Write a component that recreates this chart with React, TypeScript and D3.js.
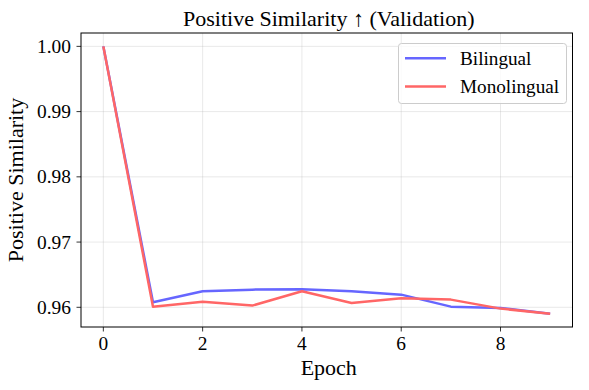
import React from "react";
import * as d3 from "d3";

const epochs = [0, 1, 2, 3, 4, 5, 6, 7, 8, 9];
const bilingual = [1.0, 0.96077, 0.96245, 0.96271, 0.96276, 0.96245, 0.96194, 0.9601, 0.9599, 0.95903];
const monolingual = [1.0, 0.9601, 0.96087, 0.96026, 0.96245, 0.96067, 0.96138, 0.96118, 0.9598, 0.95903];
const xTicks = [0, 2, 4, 6, 8];
const yTicks = [0.96, 0.97, 0.98, 0.99, 1.0];
const seriesNames = ["Bilingual", "Monolingual"];
const seriesColors = ["#6666ff", "#ff6666"];

const W = 589, H = 390;
const L = 81, R = 572.5, T = 33, B = 327;
const FONT = "Liberation Serif, serif";

export default function App() {
  const yMin = 0.95903, yMax = 1.0;
  const pad = (yMax - yMin) * 0.05;
  const x = d3.scaleLinear().domain([-0.45, 9.45]).range([L, R]);
  const y = d3.scaleLinear().domain([yMin - pad, yMax + pad]).range([B, T]);
  const line = d3.line<number>().x((_, i) => x(epochs[i])).y((d) => y(d));
  const series = [bilingual, monolingual];

  return (
    <svg width={W} height={H} style={{ position: "absolute", left: 0, top: 0, background: "#fff", fontFamily: FONT }}>
      <rect x={0} y={0} width={W} height={H} fill="#fff" />
      {xTicks.map((t) => (
        <line key={"gx" + t} x1={x(t)} x2={x(t)} y1={T} y2={B} stroke="#b0b0b0" strokeOpacity={0.35} strokeWidth={0.8} />
      ))}
      {yTicks.map((t) => (
        <line key={"gy" + t} x1={L} x2={R} y1={y(t)} y2={y(t)} stroke="#b0b0b0" strokeOpacity={0.35} strokeWidth={0.8} />
      ))}
      {series.map((s, i) => (
        <path key={i} d={line(s) || ""} fill="none" stroke={seriesColors[i]} strokeWidth={2.5} strokeLinejoin="round" />
      ))}
      <rect x={L} y={T} width={R - L} height={B - T} fill="none" stroke="#000" strokeWidth={1} />
      {xTicks.map((t) => (
        <g key={"tx" + t}>
          <line x1={x(t)} x2={x(t)} y1={B} y2={B + 4.5} stroke="#000" strokeWidth={0.8} />
          <text x={x(t)} y={B + 23} textAnchor="middle" fontSize={19.4} fill="#000">{t}</text>
        </g>
      ))}
      {yTicks.map((t) => (
        <g key={"ty" + t}>
          <line x1={L - 4.5} x2={L} y1={y(t)} y2={y(t)} stroke="#000" strokeWidth={0.8} />
          <text x={L - 10} y={y(t) + 6.5} textAnchor="end" fontSize={19.4} fill="#000">{t.toFixed(2)}</text>
        </g>
      ))}
      <text x={(L + R) / 2 + 2} y={26} textAnchor="middle" fontSize={22} fill="#000">Positive Similarity ↑ (Validation)</text>
      <text x={(L + R) / 2 + 2} y={375} textAnchor="middle" fontSize={22} fill="#000">Epoch</text>
      <text transform={`translate(23, ${(T + B) / 2}) rotate(-90)`} textAnchor="middle" fontSize={22} fill="#000">Positive Similarity</text>
      <g>
        <rect x={398.5} y={43.5} width={168} height={60} rx={3} fill="#fff" fillOpacity={0.8} stroke="#cccccc" strokeWidth={1} />
        {seriesNames.map((n, i) => (
          <g key={n}>
            <line x1={405} x2={446} y1={58.3 + i * 28.2} y2={58.3 + i * 28.2} stroke={seriesColors[i]} strokeWidth={2.5} />
            <text x={460} y={58.3 + i * 28.2 + 6.5} fontSize={19.2} fill="#000">{n}</text>
          </g>
        ))}
      </g>
    </svg>
  );
}
